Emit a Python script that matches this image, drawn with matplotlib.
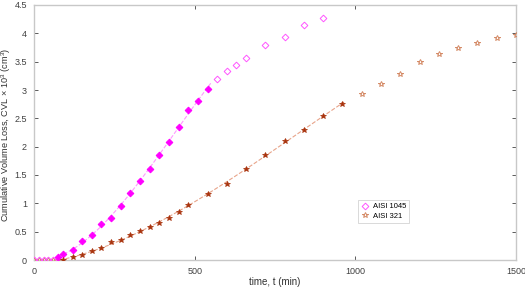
import numpy as np
import matplotlib
matplotlib.use("Agg")
import matplotlib.pyplot as plt

plt.rcParams['font.family'] = ['Liberation Sans', 'DejaVu Sans']
plt.rcParams['mathtext.fontset'] = 'custom'
plt.rcParams['mathtext.rm'] = 'Liberation Sans'
plt.rcParams['mathtext.it'] = 'Liberation Sans:italic'

# AISI 1045 - open (not fitted) and filled (fitted) points
t1045_open_a = [0, 15, 30, 45, 60]
v1045_open_a = [0, 0, 0, 0, 0]
t1045_fill = [75, 90, 120, 150, 180, 210, 240, 270, 300, 330, 360, 390, 420, 450, 480, 510, 540]
v1045_fill = [0.05, 0.10, 0.18, 0.34, 0.45, 0.63, 0.745, 0.96, 1.18, 1.40, 1.61, 1.85, 2.09, 2.35, 2.64, 2.80, 3.02]
t1045_open_b = [570, 600, 630, 660, 720, 780, 840, 900]
v1045_open_b = [3.19, 3.33, 3.44, 3.57, 3.80, 3.93, 4.15, 4.27]

# AISI 321
t321_open_a = [0, 15, 30, 45, 60, 75]
v321_open_a = [0, 0, 0, 0, 0, 0]
t321_fill = [90, 120, 150, 180, 210, 240, 270, 300, 330, 360, 390, 420, 450, 480, 540, 600, 660, 720, 780, 840, 900, 960]
v321_fill = [0.0, 0.05, 0.09, 0.16, 0.21, 0.31, 0.35, 0.45, 0.51, 0.59, 0.66, 0.74, 0.845, 0.97, 1.16, 1.35, 1.61, 1.85, 2.10, 2.30, 2.55, 2.75]
t321_open_b = [1020, 1080, 1140, 1200, 1260, 1320, 1380, 1440, 1500]
v321_open_b = [2.93, 3.10, 3.29, 3.49, 3.64, 3.75, 3.83, 3.91, 3.97]

xticks = [0, 500, 1000, 1500]
yticks = [0, 0.5, 1, 1.5, 2, 2.5, 3, 3.5, 4, 4.5]

fig = plt.figure(figsize=(5.25, 2.91), dpi=100)
ax = fig.add_axes([34/525, 1-260/291, 482/525, 255/291])

mag = '#ff00ff'
mag_open = '#ff55ff'
mag_line = '#ff99ff'
br = '#a8320c'
br_open = '#d48a66'
br_line = '#e8a48a'

# fit lines
p1 = np.polyfit(t1045_fill, v1045_fill, 3)
xx1 = np.linspace(min(t1045_fill), max(t1045_fill) + 10, 100)
ax.plot(xx1, np.polyval(p1, xx1), '--', color=mag_line, lw=0.8, zorder=2)
p2 = np.polyfit(t321_fill, v321_fill, 3)
xx2 = np.linspace(min(t321_fill) - 10, max(t321_fill) + 5, 100)
ax.plot(xx2, np.polyval(p2, xx2), '--', color=br_line, lw=0.8, zorder=2)

ms = 4
dms = 3.4
ax.plot(t321_open_a, v321_open_a, '*', ls='none', mfc='none', mec=br_open, ms=ms, mew=0.7, zorder=3)
ax.plot(t1045_open_a, v1045_open_a, 'D', ls='none', mfc='none', mec=mag_open, ms=dms, mew=0.7, zorder=3)
ax.plot(t1045_fill, v1045_fill, 'D', ls='none', mfc=mag, mec=mag, ms=dms, mew=0.7, zorder=4)
ax.plot(t1045_open_b, v1045_open_b, 'D', ls='none', mfc='none', mec=mag_open, ms=dms, mew=0.7, zorder=4,
        label='AISI 1045')
ax.plot(t321_fill, v321_fill, '*', ls='none', mfc=br, mec=br, ms=ms, mew=0.5, zorder=4)
ax.plot(t321_open_b, v321_open_b, '*', ls='none', mfc='none', mec=br_open, ms=ms, mew=0.7, zorder=4,
        label='AISI 321')

ax.set_xlim(0, 1500)
ax.set_ylim(0, 4.5)
ax.set_xticks(xticks)
ax.set_yticks(yticks)
ax.set_xticklabels([str(v) for v in xticks])
ax.set_yticklabels(['0', '0.5', '1', '1.5', '2', '2.5', '3', '3.5', '4', '4.5'])
ax.tick_params(direction='in', length=3, width=0.6, colors='#404040', labelsize=6.5,
               top=True, right=True)
ax.tick_params(axis='x', pad=5)
ax.tick_params(axis='y', pad=5)
for s in ax.spines.values():
    s.set_color('#c8c8c8')
    s.set_linewidth(1.0)

ax.set_xlabel('time, t (min)', fontsize=7, color='#303030', labelpad=1)
ax.set_ylabel(r'Cumulative Volume Loss, CVL $\times$ 10$^3$ (cm$^3$)', fontsize=6.6, color='#303030',
              va='center')
ax.yaxis.set_label_coords(-0.057, 0.49)

leg = ax.legend(loc='lower left', bbox_to_anchor=(0.665, 0.13), fontsize=5.5, frameon=True,
                fancybox=False, edgecolor='#c8c8c8', handlelength=1.0, handletextpad=0.5,
                borderpad=0.4, labelspacing=0.3)
leg.get_frame().set_linewidth(0.6)

fig.savefig('out.png', dpi=100)
